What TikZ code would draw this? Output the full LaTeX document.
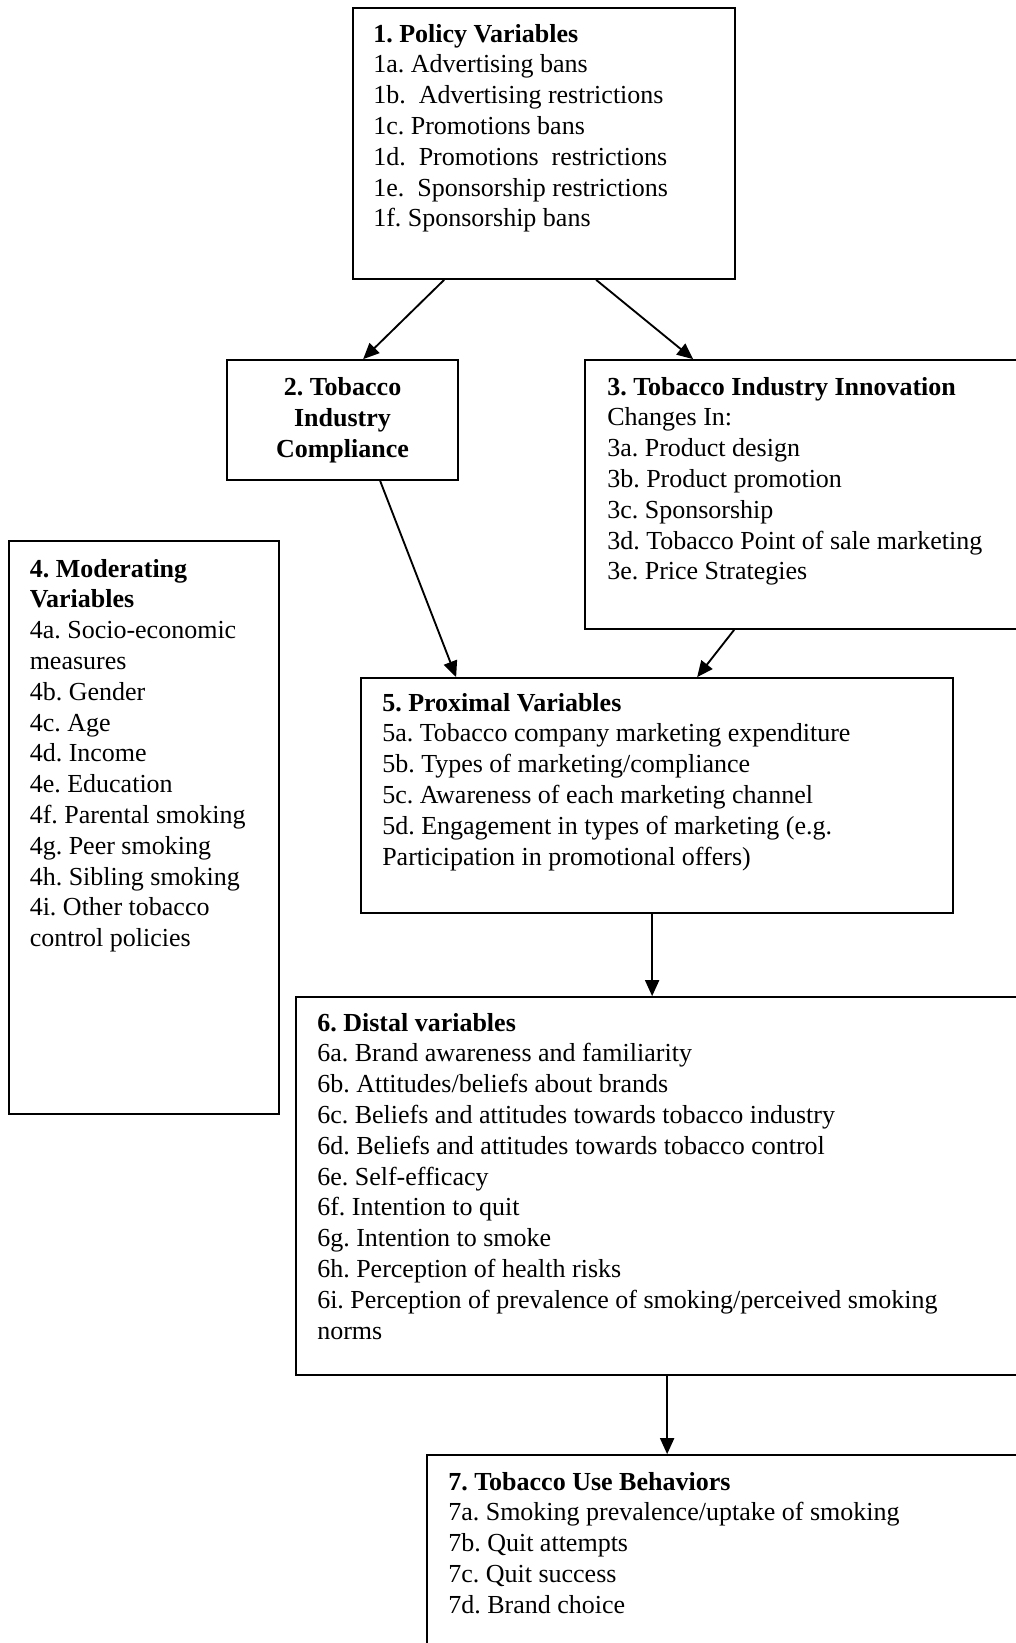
\documentclass[tikz,border=0pt]{standalone}
\usepackage{fontspec}
\setmainfont{Liberation Serif}
\usetikzlibrary{arrows.meta,calc}
\frenchspacing
\begin{document}
\begin{tikzpicture}[x=0.75pt,y=-0.75pt,
  box/.style={draw, line width=1.3pt, rectangle, inner sep=0pt},
  txt/.style={anchor=base west, inner sep=0pt, font=\fontsize{19.5pt}{23.1pt}\selectfont\frenchspacing},
  ctxt/.style={anchor=base, inner sep=0pt, font=\fontsize{19.5pt}{23.1pt}\selectfont\frenchspacing},
  arr/.style={-{Triangle[length=12pt,width=10.5pt]}, line width=1.4pt}]
\useasboundingbox (0,0) rectangle (1016,1643);
\clip (0,0) rectangle (1016,1643);

% boxes
\node[box, minimum width=286.5pt, minimum height=203.25pt] (b1) at (544,143.5) {};
\node[box, minimum width=173.25pt, minimum height=90pt] (b2) at (342.5,420) {};
\node[box, minimum width=333.75pt, minimum height=201.75pt] (b3) at (807.5,494.5) {};
\node[box, minimum width=202.5pt, minimum height=429.75pt] (b4) at (144,827.5) {};
\node[box, minimum width=444pt, minimum height=176.25pt] (b5) at (657,795.5) {};
\node[box, minimum width=550.5pt, minimum height=283.5pt] (b6) at (663,1186) {};
\node[box, minimum width=452.25pt, minimum height=153.75pt] (b7) at (728.5,1557.5) {};

% texts
\node[txt] (t1) at (373,42) {\parbox[t]{300pt}{\raggedright
  \textbf{1. Policy Variables}\\
  1a. Advertising bans\\
  1b.~ Advertising restrictions\\
  1c. Promotions bans\\
  1d.~ Promotions~ restrictions\\
  1e.~ Sponsorship restrictions\\
  1f. Sponsorship bans}};

\node[ctxt] (t2) at (342.5,395.5) {\parbox[t]{170pt}{\centering\bfseries
  2. Tobacco\\Industry\\Compliance}};

\node[txt] (t3) at (607,395) {\parbox[t]{320pt}{\raggedright
  \textbf{3. Tobacco Industry Innovation}\\
  Changes In:\\
  3a. Product design\\
  3b. Product promotion\\
  3c. Sponsorship\\
  3d. Tobacco Point of sale marketing\\
  3e. Price Strategies}};

\node[txt] (t4) at (29.5,577) {\parbox[t]{190pt}{\raggedright
  \textbf{4. Moderating}\\
  \textbf{Variables}\\
  4a. Socio-economic\\
  measures\\
  4b. Gender\\
  4c. Age\\
  4d. Income\\
  4e. Education\\
  4f. Parental smoking\\
  4g. Peer smoking\\
  4h. Sibling smoking\\
  4i. Other tobacco\\
  control policies}};

\node[txt] (t5) at (382,711) {\parbox[t]{420pt}{\raggedright
  \textbf{5. Proximal Variables}\\
  5a. Tobacco company marketing expenditure\\
  5b. Types of marketing/compliance\\
  5c. Awareness of each marketing channel\\
  5d. Engagement in types of marketing (e.g.\\
  Participation in promotional offers)}};

\node[txt] (t6) at (317,1031) {\parbox[t]{520pt}{\raggedright
  \textbf{6. Distal variables}\\
  6a. Brand awareness and familiarity\\
  6b. Attitudes/beliefs about brands\\
  6c. Beliefs and attitudes towards tobacco industry\\
  6d. Beliefs and attitudes towards tobacco control\\
  6e. Self-efficacy\\
  6f. Intention to quit\\
  6g. Intention to smoke\\
  6h. Perception of health risks\\
  6i. Perception of prevalence of smoking/perceived smoking\\
  norms}};

\node[txt] (t7) at (448,1490) {\parbox[t]{420pt}{\raggedright
  \textbf{7. Tobacco Use Behaviors}\\
  7a. Smoking prevalence/uptake of smoking\\
  7b. Quit attempts\\
  7c. Quit success\\
  7d. Brand choice}};

% connectors
\draw[arr] ($(b1.south west)+(92,0)$) -- ($(b2.north west)+(137,0)$);
\draw[arr] ($(b1.south west)+(244,0)$) -- ($(b3.north west)+(109,0)$);
\draw[arr] ($(b2.south west)+(154,0)$) -- ($(b5.north west)+(96,0)$);
\draw[arr] ($(b3.south west)+(150,0)$) -- ($(b5.north west)+(337,0)$);
\draw[arr] ($(b5.south west)+(292,0)$) -- ($(b6.north west)+(357,0)$);
\draw[arr] ($(b6.south west)+(372,0)$) -- ($(b7.north west)+(241,0)$);
\end{tikzpicture}
\end{document}
